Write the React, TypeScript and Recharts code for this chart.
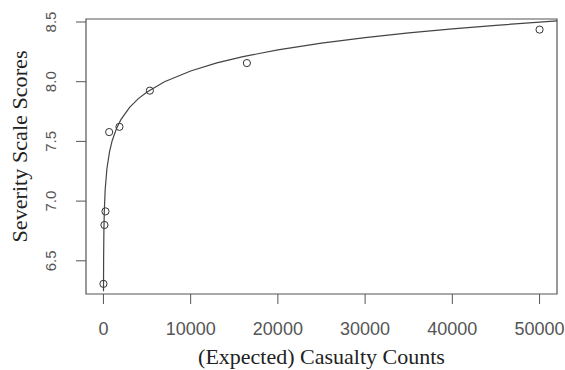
import React from 'react';
import { ComposedChart, Line, Scatter, XAxis, YAxis, ReferenceArea } from 'recharts';

// Observed points
const pointX = [0, 115, 230, 654, 1835, 5321, 16445, 50000];
const pointY = [6.307, 6.8, 6.914, 7.578, 7.622, 7.925, 8.156, 8.436];

// Fitted curve
const curveX = [7, 20, 50, 100, 200, 400, 700, 1000, 1500, 2000, 3000, 4000, 5000, 7000, 10000, 13000, 16000, 20000, 25000, 30000, 35000, 40000, 45000, 50000, 52000];
const curveY = [6.245, 6.512, 6.745, 6.921, 7.097, 7.273, 7.415, 7.506, 7.609, 7.682, 7.785, 7.858, 7.914, 8.0, 8.09, 8.157, 8.21, 8.266, 8.323, 8.369, 8.409, 8.443, 8.472, 8.499, 8.509];

const xTicks = [0, 10000, 20000, 30000, 40000, 50000];
const yTicks = [6.5, 7.0, 7.5, 8.0, 8.5];
const xDomain = [-2000, 52000];
const yDomain = [6.222, 8.525];

const points = pointX.map((x, i) => ({ x, y: pointY[i] }));
const curve = curveX.map((x, i) => ({ x, y: curveY[i] }));

const tickFont = '"Liberation Sans", Arial, sans-serif';
const titleFont = '"Liberation Serif", "Times New Roman", serif';

const XTick = (props: any) => {
  const { x, y, payload } = props;
  return (
    <text x={x} y={y + 29} textAnchor="middle" fontFamily={tickFont} fontSize={18} fill="#555">
      {payload.value}
    </text>
  );
};

const YTick = (props: any) => {
  const { x, y, payload } = props;
  const ax = x - 18;
  return (
    <text
      x={ax}
      y={y}
      textAnchor="middle"
      fontFamily={tickFont}
      fontSize={15}
      fill="#555"
      transform={`rotate(-90, ${ax}, ${y})`}
    >
      {Number(payload.value).toFixed(1)}
    </text>
  );
};

const XTitle = (props: any) => {
  const vb = props.viewBox;
  return (
    <text x={vb.x + vb.width / 2} y={vb.y + 70} textAnchor="middle" fontFamily={titleFont} fontSize={22} fill="#222">
      (Expected) Casualty Counts
    </text>
  );
};

const YTitle = (props: any) => {
  const vb = props.viewBox;
  const cx = vb.x + 27;
  const cy = vb.y + vb.height / 2 - 10;
  return (
    <text
      x={cx}
      y={cy}
      textAnchor="middle"
      fontFamily={titleFont}
      fontSize={22}
      fill="#222"
      textLength={192}
      lengthAdjust="spacingAndGlyphs"
      transform={`rotate(-90, ${cx}, ${cy})`}
    >
      Severity Scale Scores
    </text>
  );
};

const Dot = (props: any) => (
  <circle cx={props.cx} cy={props.cy} r={3.6} fill="none" stroke="#333" strokeWidth={1} />
);

export default function App() {
  return (
    <div style={{ position: 'absolute', left: 0, top: 0, background: '#fff' }}>
      <ComposedChart width={565} height={370} margin={{ top: 19, right: 8, bottom: 0, left: 0 }}>
        <XAxis
          type="number"
          dataKey="x"
          domain={xDomain}
          ticks={xTicks}
          allowDataOverflow
          axisLine={false}
          tickLine={{ stroke: '#555', strokeWidth: 1 }}
          tickSize={10}
          tick={<XTick />}
          height={76}
          interval={0}
          label={<XTitle />}
        />
        <YAxis
          type="number"
          dataKey="y"
          domain={yDomain}
          ticks={yTicks}
          allowDataOverflow
          axisLine={false}
          tickLine={{ stroke: '#555', strokeWidth: 1 }}
          tickSize={10}
          tick={<YTick />}
          width={86}
          interval={0}
          label={<YTitle />}
        />
        <ReferenceArea x1={xDomain[0]} x2={xDomain[1]} y1={yDomain[0]} y2={yDomain[1]} fill="none" stroke="#555" strokeWidth={1.2} ifOverflow="visible" />
        <Line data={curve} dataKey="y" type="linear" stroke="#444" strokeWidth={1.2} dot={false} isAnimationActive={false} />
        <Scatter data={points} dataKey="y" shape={<Dot />} isAnimationActive={false} />
      </ComposedChart>
    </div>
  );
}
